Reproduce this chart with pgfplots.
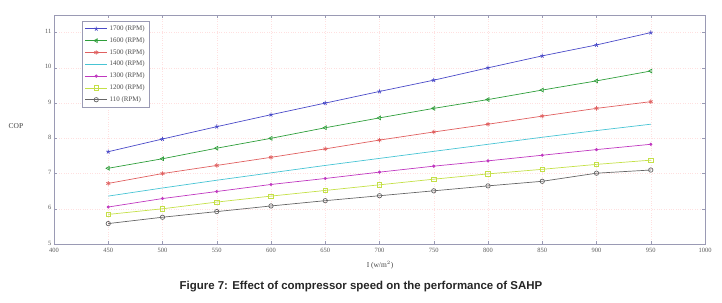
\documentclass[border=0pt]{standalone}
\usepackage{pgfplots}
\pgfplotsset{compat=1.18}
\usepackage{fontspec}
\setmainfont{Liberation Serif}
\newfontfamily\capfont{Liberation Sans}
\definecolor{cA}{HTML}{4A4AC8}
\definecolor{cB}{HTML}{2E9E3A}
\definecolor{cC}{HTML}{E06060}
\definecolor{cD}{HTML}{48C4D4}
\definecolor{cE}{HTML}{C038C0}
\definecolor{cF}{HTML}{C4E048}
\definecolor{cG}{HTML}{666666}
\definecolor{axc}{HTML}{9A9AB4}
\begin{document}
\begin{tikzpicture}[x=1bp,y=1bp]
\useasboundingbox (-54,-58) rectangle (668,244);
\begin{axis}[
  at={(0,0)}, anchor=south west,
  scale only axis, width=651bp, height=229bp,
  xmin=400, xmax=1000, ymin=5, ymax=11.5,
  xtick={400,450,...,1000}, ytick={5,6,...,11},
  tick align=inside, ticks=major, major tick length=3bp,
  axis line style={axc, line width=0.5pt},
  every tick/.style={axc},
  grid=major, major grid style={red!12, dotted, line width=0.3pt},
  tick label style={font=\fontsize{6.5}{7}\selectfont, text=black!65},
  /pgf/number format/assume math mode=true,
  /pgf/number format/1000 sep={},
  xticklabel style={yshift=-1bp},
  yticklabel style={xshift=1bp, yshift=1bp},
  legend style={at={(axis cs:426,11.33)}, anchor=north west, draw=axc, line width=0.4pt,
     font=\fontsize{7}{8}\selectfont, inner sep=2.5pt, row sep=1.5pt,
     text=black!70, fill=white},
  legend cell align=left,
  legend image code/.code={\draw[mark repeat=2,mark phase=2] plot coordinates {(0bp,0bp)(11bp,0bp)(22bp,0bp)};},
  every axis plot/.append style={line width=0.7pt, mark size=2.2pt},
]
\addplot[cA, mark=star] coordinates {(450,7.62)(500,7.98)(550,8.33)(600,8.67)(650,9.0)(700,9.33)(750,9.65)(800,10.0)(850,10.34)(900,10.65)(950,11.0)};
\addlegendentry{1700 (RPM)}
\addplot[cB, mark=triangle, mark options={rotate=90}] coordinates {(450,7.15)(500,7.42)(550,7.72)(600,8.0)(650,8.3)(700,8.58)(750,8.85)(800,9.10)(850,9.37)(900,9.63)(950,9.91)};
\addlegendentry{1600 (RPM)}
\addplot[cC, mark=asterisk] coordinates {(450,6.72)(500,7.0)(550,7.23)(600,7.46)(650,7.70)(700,7.95)(750,8.18)(800,8.40)(850,8.63)(900,8.85)(950,9.04)};
\addlegendentry{1500 (RPM)}
\addplot[cD, mark=none] coordinates {(450,6.36)(500,6.59)(550,6.81)(600,7.02)(650,7.23)(700,7.43)(750,7.63)(800,7.83)(850,8.03)(900,8.22)(950,8.40)};
\addlegendentry{1400 (RPM)}
\addplot[cE, mark=*, mark size=1.2pt] coordinates {(450,6.05)(500,6.29)(550,6.49)(600,6.69)(650,6.86)(700,7.04)(750,7.21)(800,7.36)(850,7.52)(900,7.68)(950,7.83)};
\addlegendentry{1300 (RPM)}
\addplot[cF, mark=square] coordinates {(450,5.84)(500,6.0)(550,6.19)(600,6.36)(650,6.52)(700,6.68)(750,6.84)(800,6.99)(850,7.12)(900,7.26)(950,7.38)};
\addlegendentry{1200 (RPM)}
\addplot[cG, mark=o] coordinates {(450,5.58)(500,5.76)(550,5.92)(600,6.08)(650,6.23)(700,6.37)(750,6.51)(800,6.65)(850,6.78)(900,7.01)(950,7.10)};
\addlegendentry{110 (RPM)}
\end{axis}
\node[font=\fontsize{7.5}{9}\selectfont, text=black!75] at (-38,118) {COP};
\node[font=\fontsize{7.5}{9}\selectfont, text=black!75] at (326,-21) {I (w/m$^2$)};
\node[font=\capfont\bfseries\fontsize{11.5}{13}\selectfont, text=black!85] at (307,-43) {Figure 7: Effect of compressor speed on the performance of SAHP};
\end{tikzpicture}
\end{document}
